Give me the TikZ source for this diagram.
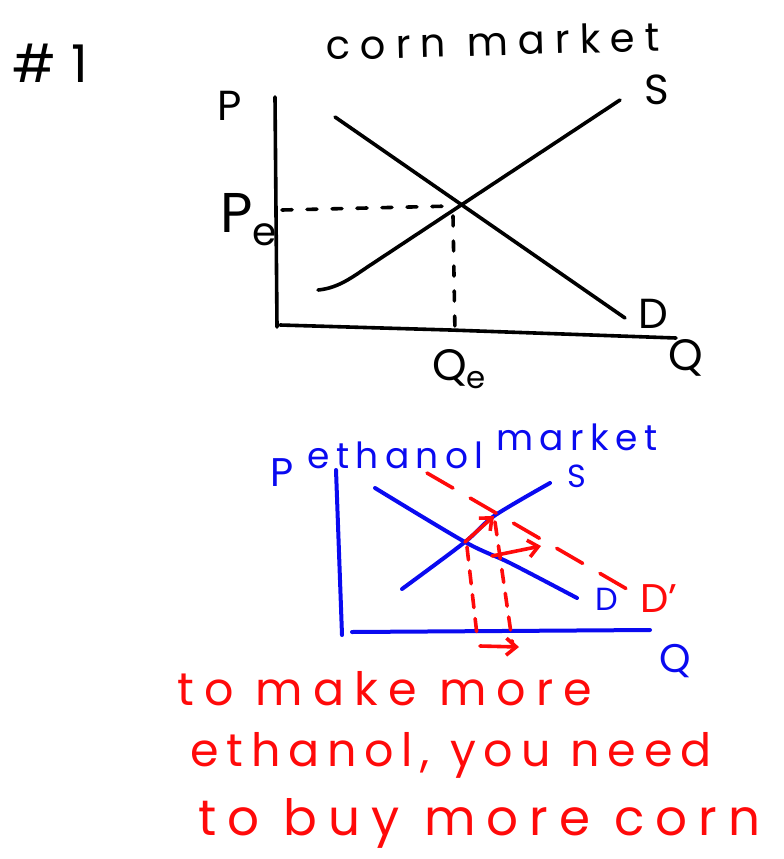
\documentclass[tikz,border=0pt]{standalone}
\usepackage{fontspec}
\setmainfont{Poppins}
\usetikzlibrary{arrows.meta,positioning}
\definecolor{ink}{HTML}{000000}
\definecolor{penblue}{HTML}{0A0AF0}
\definecolor{penred}{HTML}{FF0A0A}
\tikzset{
  >={Straight Barb[length=10pt,width=17pt]},
  every node/.style={text=ink,inner sep=0pt,anchor=base west},
  hand/.style={font=\fontsize{#1}{#1}\selectfont},
  spaced/.style={execute at begin node=\addfontfeature{LetterSpace=#1}},
  bluetext/.style={text=penblue},
  redtext/.style={text=penred},
  line/.style={line width=3.6pt,draw=ink,line cap=round,line join=round},
  guide/.style={line,dash pattern=on 10pt off 15pt},
  bline/.style={line,draw=penblue,line width=4pt},
  rline/.style={line,draw=penred,line width=3.6pt},
  rdash/.style={rline,dash pattern=on 13pt off 11pt},
  rshift/.style={rline,->},
}

\begin{document}
\begin{tikzpicture}[x=1pt,y=-1pt]
\useasboundingbox (0,0) rectangle (784,859);

% corn market
\node[hand=52,spaced=30] (num) at (12,82) {\#1};
\node[hand=40,spaced=25,rotate=1.5] (corntitle) at (326,60) {corn market};
\node[hand=42] (cp) at (217,120) {P};
\node[hand=56] (pe) at (220,232) {P\textsubscript{e}};
\node[hand=42] (cs) at (644,104) {S};
\node[hand=42] (cd) at (638,328) {D};
\node[hand=44] (qe) at (432,380) {Q\textsubscript{e}};
\node[hand=44] (cq) at (668,370) {Q};

\coordinate (cy0) at (275,97);
\coordinate (cy1) at (277,327);
\coordinate (cx0) at (280,325);
\coordinate (cxm) at (450,330);
\coordinate (cx1) at (676,338);
\coordinate (cd0) at (335,117);
\coordinate (cd1) at (625,318);
\coordinate (cs0) at (318,290);
\coordinate (cs1) at (372,264);
\coordinate (cs2) at (620,100);
\coordinate (ce) at (453,206);
\coordinate (cpe) at (282,210);
\coordinate (cqe) at (455,335);

\draw[line] (cy0) -- (cy1);
\draw[line] (cx0) -- (cxm) -- (cx1);
\draw[line] (cd0) -- (cd1);
\draw[line] (cs0) .. controls (340,288) and (355,275) .. (cs1) -- (cs2);
\draw[guide] (cpe) -- (ce);
\draw[guide] (ce) ++(0,10) -- (cqe);

% ethanol market
\node[hand=40,bluetext] (ep) at (270,486) {P};
\node[hand=36,spaced=18,bluetext] (ethtitle) at (307,468) {ethanol};
\node[hand=36,spaced=18,bluetext,right=12pt of ethtitle.base east,anchor=base west,yshift=18pt] (mkttitle) {market};
\node[hand=32,bluetext] (es) at (567,487) {S};
\node[hand=32,bluetext] (ed) at (595,610) {D};
\node[hand=40,redtext] (edd) at (640,612) {D'};
\node[hand=40,bluetext] (eq) at (659,672) {Q};

\coordinate (ey0) at (336,470);
\coordinate (ey1) at (342,635);
\coordinate (ex0) at (352,632);
\coordinate (ex1) at (650,630);
\coordinate (es0) at (402,589);
\coordinate (e0) at (465,542);
\coordinate (e1) at (494,516);
\coordinate (es1) at (550,483);
\coordinate (ed0) at (375,488);
\coordinate (edm) at (510,563);
\coordinate (ed1) at (577,598);
\coordinate (edd0) at (427,473);
\coordinate (edd1) at (632,592);

\draw[bline] (ey0) -- (ey1);
\draw[bline] (ex0) -- (ex1);
\draw[bline] plot[smooth] coordinates {(es0) (e0) (e1) (es1)};
\draw[bline] plot[smooth] coordinates {(ed0) (e0) (edm) (ed1)};

% demand shift
\coordinate (sh0) at (492,556);
\coordinate (sh1) at (541,546);
\coordinate (q0) at (477,635);
\coordinate (q1) at (513,647);
\coordinate (qa0) at (480,646);
\coordinate (qa1) at (519,647);

\draw[rdash,dash pattern=on 30pt off 20pt] (edd0) -- (edd1);
\draw[rshift] (e0) -- (e1);
\draw[rshift] (sh0) -- (sh1);
\draw[rdash] (e0) ++(2,5) -- (q0);
\draw[rdash] (e1) ++(1,6) -- (q1);
\draw[rshift] (qa0) -- (qa1);

% note
\node[hand=46,spaced=22,redtext] (note1) at (177,705) {to make more};
\node[hand=46,spaced=17,redtext] (note2) at (190,766) {ethanol, you need};
\node[hand=50,spaced=22,redtext] (note3) at (198,835) {to buy more corn};

\end{tikzpicture}
\end{document}
